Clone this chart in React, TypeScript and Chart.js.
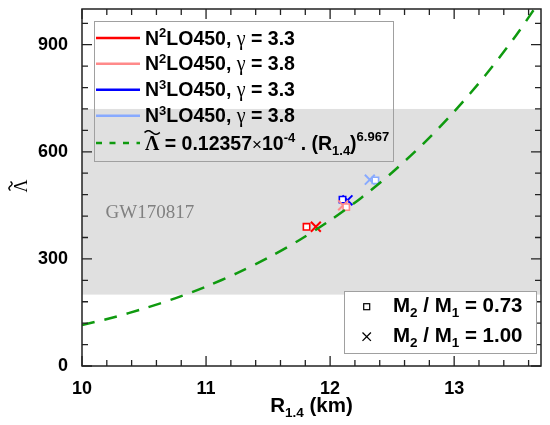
import { useEffect, useRef } from "react";
import { Chart, registerables } from "chart.js";

Chart.register(...registerables);

// ---- axes ----
const X_MIN = 10;
const X_MAX = 13.7;
const Y_MIN = 0;
const Y_MAX = 1000;
const X_TICK_LABELS = [10, 11, 12, 13];
const Y_TICK_LABELS = [0, 300, 600, 900];
const X_MINOR_STEP = 0.2;
const Y_MINOR_STEP = 60;

// ---- GW170817 band ----
const GW_BAND = [200, 720];
const GW_LABEL = "GW170817";
const GW_LABEL_POS = [10.19, 415];

// ---- fit curve (tabulated) ----
const FIT_R = [10, 10.25, 10.5, 10.75, 11, 11.25, 11.5, 11.75, 12, 12.25, 12.5, 12.75, 13, 13.25, 13.5, 13.75];
const FIT_LAMBDA = [114.5, 136.0, 160.9, 189.6, 222.5, 260.2, 303.3, 352.3, 407.9, 470.9, 542.1, 622.3, 712.5, 813.6, 926.7, 1053.1];

// ---- series ----
const SERIES_ORDER = ["2", "2", "3", "3"];
const SERIES_GAMMA = ["3.3", "3.8", "3.3", "3.8"];
const SERIES_COLOR = ["#ff0000", "#ff8a8a", "#0000ff", "#88aaff"];
const SQUARE_R = [11.81, 12.13, 12.1, 12.365];
const SQUARE_LAMBDA = [390, 445, 466, 520];
const CROSS_R = [11.885, 12.105, 12.14, 12.32];
const CROSS_LAMBDA = [390, 450, 464, 522];
const RATIO_LABELS = ["0.73", "1.00"];

const SANS = "'Liberation Sans', Arial, Helvetica, sans-serif";
const SERIF = "'Liberation Serif', 'Times New Roman', serif";
const GREEN = "#0f9a0f";

type Run = { t: string; f: string; dy?: number; c?: string };

function drawRuns(ctx: CanvasRenderingContext2D, x: number, y: number, runs: Run[]) {
  let cx = x;
  for (const r of runs) {
    ctx.font = r.f;
    ctx.fillStyle = r.c || "#000";
    ctx.fillText(r.t, cx, y + (r.dy || 0));
    cx += ctx.measureText(r.t).width;
  }
  return cx - x;
}

function measureRuns(ctx: CanvasRenderingContext2D, runs: Run[]) {
  let w = 0;
  for (const r of runs) {
    ctx.font = r.f;
    w += ctx.measureText(r.t).width;
  }
  return w;
}

function tilde(ctx: CanvasRenderingContext2D, cx: number, cy: number, w: number, amp: number, lw: number) {
  ctx.beginPath();
  for (let i = 0; i <= 24; i++) {
    const t = i / 24;
    const px = cx - w / 2 + w * t;
    const py = cy - amp * Math.sin(2 * Math.PI * t);
    if (i === 0) ctx.moveTo(px, py);
    else ctx.lineTo(px, py);
  }
  ctx.lineWidth = lw;
  ctx.strokeStyle = "#000";
  ctx.stroke();
}

const B18 = `bold 18px ${SANS}`;
const L1 = `bold 19.5px ${SANS}`;
const L1S = `bold 13px ${SANS}`;
const L2 = `bold 20.5px ${SANS}`;
const L2S = `bold 13.5px ${SANS}`;

const deco = {
  id: "deco",
  beforeDatasetsDraw(chart: any) {
    const { ctx, chartArea: a, scales } = chart;
    const x = scales.x;
    const y = scales.y;
    ctx.save();
    const yt = y.getPixelForValue(GW_BAND[1]);
    const yb = y.getPixelForValue(GW_BAND[0]);
    ctx.fillStyle = "#e0e0e0";
    ctx.fillRect(a.left, yt, a.right - a.left, yb - yt);
    ctx.fillStyle = "#808080";
    ctx.font = `19px ${SERIF}`;
    ctx.textAlign = "left";
    ctx.textBaseline = "alphabetic";
    ctx.fillText(GW_LABEL, x.getPixelForValue(GW_LABEL_POS[0]), y.getPixelForValue(GW_LABEL_POS[1]));
    ctx.restore();
  },
  afterDraw(chart: any) {
    const { ctx, chartArea: a, scales } = chart;
    const x = scales.x;
    const y = scales.y;
    ctx.save();

    // frame
    ctx.strokeStyle = "#222";
    ctx.lineWidth = 1.5;
    ctx.strokeRect(a.left, a.top, a.right - a.left, a.bottom - a.top);

    // ticks
    ctx.lineWidth = 1.3;
    ctx.beginPath();
    const nx = Math.round((X_MAX - X_MIN) / X_MINOR_STEP);
    for (let i = 0; i <= nx; i++) {
      const v = X_MIN + i * X_MINOR_STEP;
      if (v > X_MAX + 1e-9) break;
      const px = x.getPixelForValue(v);
      const len = i % 5 === 0 ? 10 : 6;
      ctx.moveTo(px, a.bottom);
      ctx.lineTo(px, a.bottom - len);
      ctx.moveTo(px, a.top);
      ctx.lineTo(px, a.top + len);
    }
    const ny = Math.round((Y_MAX - Y_MIN) / Y_MINOR_STEP);
    for (let i = 0; i <= ny; i++) {
      const v = Y_MIN + i * Y_MINOR_STEP;
      if (v > Y_MAX) break;
      const py = y.getPixelForValue(v);
      const len = i % 5 === 0 ? 10 : 6;
      ctx.moveTo(a.left, py);
      ctx.lineTo(a.left + len, py);
      ctx.moveTo(a.right, py);
      ctx.lineTo(a.right - len, py);
    }
    ctx.stroke();

    // tick labels
    ctx.fillStyle = "#000";
    ctx.font = B18;
    ctx.textAlign = "center";
    ctx.textBaseline = "alphabetic";
    for (const v of X_TICK_LABELS) ctx.fillText(String(v), x.getPixelForValue(v), a.bottom + 28);
    ctx.textAlign = "right";
    ctx.textBaseline = "middle";
    for (const v of Y_TICK_LABELS) ctx.fillText(String(v), a.left - 14, y.getPixelForValue(v));

    // x title
    ctx.textAlign = "left";
    ctx.textBaseline = "alphabetic";
    const xt: Run[] = [
      { t: "R", f: L2 },
      { t: "1.4", f: L2S, dy: 5 },
      { t: " (km)", f: L2 },
    ];
    const xw = measureRuns(ctx, xt);
    drawRuns(ctx, (a.left + a.right) / 2 - xw / 2, a.bottom + 46, xt);

    // y title (rotated Lambda tilde)
    ctx.save();
    ctx.translate(27, 186);
    ctx.rotate(-Math.PI / 2);
    ctx.font = `18px ${SERIF}`;
    ctx.textAlign = "center";
    ctx.fillText("Λ", 0, 0);
    tilde(ctx, 0, -16.5, 9, 1.6, 1.4);
    ctx.restore();

    // legend 1
    ctx.textAlign = "left";
    ctx.textBaseline = "alphabetic";
    ctx.strokeStyle = "#a0a0a0";
    ctx.lineWidth = 1;
    ctx.strokeRect(94.5, 21.5, 299, 140);
    const base = [44.5, 70.3, 96.2, 122.3];
    for (let i = 0; i < SERIES_ORDER.length; i++) {
      const by = base[i];
      ctx.strokeStyle = SERIES_COLOR[i];
      ctx.lineWidth = 2.5;
      ctx.beginPath();
      ctx.moveTo(96, by - 6.5);
      ctx.lineTo(140, by - 6.5);
      ctx.stroke();
      drawRuns(ctx, 145, by, [
        { t: "N", f: L1 },
        { t: SERIES_ORDER[i], f: L1S, dy: -7.5 },
        { t: "LO450, ", f: L1 },
        { t: "γ", f: `20px ${SERIF}` },
        { t: " = " + SERIES_GAMMA[i], f: L1 },
      ]);
    }
    // formula row
    const fy = 149.5;
    ctx.strokeStyle = GREEN;
    ctx.lineWidth = 2.5;
    ctx.setLineDash([6, 7.5]);
    ctx.beginPath();
    ctx.moveTo(96, fy - 6.5);
    ctx.lineTo(140, fy - 6.5);
    ctx.stroke();
    ctx.setLineDash([]);
    ctx.font = `bold 20px ${SERIF}`;
    const lw = ctx.measureText("Λ").width;
    tilde(ctx, 145 + lw / 2, fy - 17, lw + 1, 1.8, 1.6);
    drawRuns(ctx, 145, fy, [
      { t: "Λ", f: `bold 20px ${SERIF}` },
      { t: " = 0.12357", f: L1 },
      { t: "×", f: `17px ${SANS}` },
      { t: "10", f: L1 },
      { t: "-4", f: L1S, dy: -7.5 },
      { t: " . (R", f: L1 },
      { t: "1.4", f: L1S, dy: 5 },
      { t: ")", f: L1 },
      { t: "6.967", f: L1S, dy: -8.5 },
    ]);

    // legend 2
    ctx.fillStyle = "#ffffff";
    ctx.fillRect(344.5, 291.5, 192, 62);
    ctx.strokeStyle = "#a0a0a0";
    ctx.lineWidth = 1;
    ctx.strokeRect(344.5, 291.5, 192, 62);
    ctx.strokeStyle = "#000";
    ctx.lineWidth = 1.2;
    ctx.strokeRect(363.7, 303.7, 6, 6);
    ctx.lineWidth = 1.3;
    ctx.beginPath();
    ctx.moveTo(362.5, 332.5);
    ctx.lineTo(370.9, 340.9);
    ctx.moveTo(370.9, 332.5);
    ctx.lineTo(362.5, 340.9);
    ctx.stroke();
    const rb = [312.3, 342.3];
    for (let i = 0; i < RATIO_LABELS.length; i++) {
      drawRuns(ctx, 393, rb[i], [
        { t: "M", f: L2 },
        { t: "2", f: L2S, dy: 5 },
        { t: " / M", f: L2 },
        { t: "1", f: L2S, dy: 5 },
        { t: " = " + RATIO_LABELS[i], f: L2 },
      ]);
    }
    ctx.restore();
  },
};

export default function App() {
  const ref = useRef<HTMLCanvasElement | null>(null);
  useEffect(() => {
    if (!ref.current) return;
    const datasets: any[] = [
      {
        label: "fit",
        data: FIT_R.map((r, i) => ({ x: r, y: FIT_LAMBDA[i] })),
        showLine: true,
        borderColor: GREEN,
        borderWidth: 2.5,
        borderDash: [13, 10],
        pointRadius: 0,
        tension: 0.3,
        fill: false,
      },
    ];
    for (let i = 0; i < SERIES_COLOR.length; i++) {
      datasets.push({
        label: "sq" + i,
        data: [{ x: SQUARE_R[i], y: SQUARE_LAMBDA[i] }],
        pointStyle: "rect",
        pointRadius: 4.5,
        borderWidth: 1.6,
        borderColor: SERIES_COLOR[i],
        backgroundColor: "#ffffff",
      });
      datasets.push({
        label: "x" + i,
        data: [{ x: CROSS_R[i], y: CROSS_LAMBDA[i] }],
        pointStyle: "crossRot",
        pointRadius: 7,
        borderWidth: 2,
        borderColor: SERIES_COLOR[i],
        backgroundColor: SERIES_COLOR[i],
      });
    }
    const chart = new Chart(ref.current, {
      type: "scatter",
      data: { datasets },
      options: {
        animation: false,
        responsive: false,
        devicePixelRatio: 1,
        events: [],
        layout: { padding: { left: 82, right: 6, top: 8, bottom: 59 } },
        plugins: { legend: { display: false }, tooltip: { enabled: false } },
        scales: {
          x: { type: "linear", min: X_MIN, max: X_MAX, display: false },
          y: { type: "linear", min: Y_MIN, max: Y_MAX, display: false },
        },
      },
      plugins: [deco],
    } as any);
    return () => chart.destroy();
  }, []);
  return (
    <div style={{ position: "fixed", left: 0, top: 0, width: 550, height: 425, background: "#fff" }}>
      <canvas ref={ref} width={550} height={425} style={{ width: 550, height: 425, display: "block" }} />
    </div>
  );
}
